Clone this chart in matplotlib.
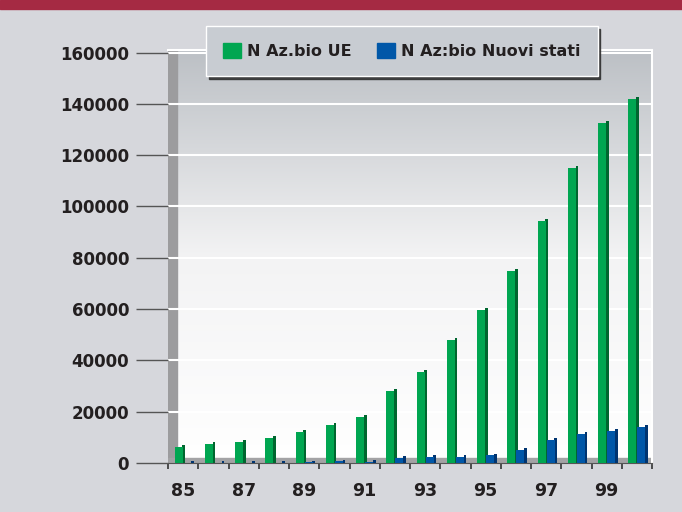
import numpy as np
import matplotlib
matplotlib.use('Agg')
import matplotlib.pyplot as plt
from matplotlib.patches import Rectangle, Patch
from matplotlib.colors import LinearSegmentedColormap

# ---------- dati ----------
anni = ['85', '86', '87', '88', '89', '90', '91', '92',
        '93', '94', '95', '96', '97', '98', '99', '00']
az_ue = [6200, 7300, 8200, 9700, 12000, 14800, 18000, 28000,
         35500, 48000, 59700, 75000, 94400, 115000, 132700, 142000]
az_nuovi = [100, 100, 100, 100, 200, 600, 300, 2000,
            2300, 2300, 3000, 5000, 9000, 11300, 12500, 14000]
etichette_x = ['85', '87', '89', '91', '93', '95', '97', '99']
serie = ['N Az.bio UE', 'N Az:bio Nuovi stati']

VERDE, VERDE_SCURO = '#00a651', '#00662f'
BLU, BLU_SCURO = '#0057a8', '#003470'
SFONDO = '#d6d7dc'
TESTO = '#231f20'

plt.rcParams['font.family'] = 'DejaVu Sans'
fig = plt.figure(figsize=(6.82, 5.12), dpi=100, facecolor=SFONDO)
fig.patches.append(Rectangle((0, 1 - 9 / 512), 1, 9 / 512, transform=fig.transFigure,
                             color='#a52a43', zorder=0))

ax = fig.add_axes([168 / 682, 49 / 512, (652 - 168) / 682, (463 - 50) / 512])
ymax = 161000
x = np.arange(len(anni))

# sfondo sfumato
cmap = LinearSegmentedColormap.from_list('sf', ['#ffffff', '#f3f3f4', '#bcc0c5'])
grad = np.linspace(0, 1, 256).reshape(-1, 1)
ax.imshow(grad, extent=[-0.5, len(anni) - 0.5, 0, ymax], origin='lower',
          aspect='auto', cmap=cmap, zorder=0)

# parete sinistra e pavimento (effetto 3D)
ax.axvspan(-0.5, -0.2, color='#9c9c9e', zorder=1)
ax.axhspan(0, 1900, color='#a3a3a5', zorder=1)
for v in range(20000, 160001, 20000):
    ax.axhline(v, color='white', lw=1.5, zorder=1)

w = 0.27
lato = 0.09
gx = x - 0.15
bx = x + 0.15
ax.bar(gx + w / 2 + lato / 2 - 0.01, np.array(az_ue) + 700, width=lato,
       color=VERDE_SCURO, zorder=2)
ax.bar(gx, az_ue, width=w, color=VERDE, zorder=3)
ax.bar(bx + w / 2 + lato / 2 - 0.01, np.array(az_nuovi) + 700, width=lato,
       color=BLU_SCURO, zorder=4)
ax.bar(bx, az_nuovi, width=w, color=BLU, zorder=5)

ax.set_xlim(-0.5, len(anni) - 0.5)
ax.set_ylim(0, ymax)
ax.set_yticks(range(0, 160001, 20000))
ax.set_yticklabels([str(v) for v in range(0, 160001, 20000)],
                   fontweight='bold', fontsize=12, color=TESTO)
ax.tick_params(axis='y', length=23, width=1, color='#555555', pad=5)

ax.set_xticks(x[::2])
ax.set_xticklabels(etichette_x, fontweight='bold', fontsize=12.5, color=TESTO)
ax.set_xticks(np.arange(-0.5, len(anni), 1), minor=True)
ax.tick_params(axis='x', which='major', length=0, pad=14)
ax.tick_params(axis='x', which='minor', length=4, width=1.2, color='#333333')

ax.spines['left'].set_visible(False)
ax.spines['bottom'].set_color('#555555')
for s in ['top', 'right']:
    ax.spines[s].set_color('white')
    ax.spines[s].set_linewidth(1.5)

handles = [Patch(color=VERDE, label=serie[0]), Patch(color=BLU, label=serie[1])]
leg = fig.legend(handles=handles, loc='center', bbox_to_anchor=(402 / 682, 1 - 51 / 512),
                 ncol=2, frameon=True, fancybox=False, shadow={'color': '#333333', 'alpha': 0.9},
                 facecolor='#c8ccd2', edgecolor='white', framealpha=1,
                 handlelength=1.1, handleheight=1.1, handletextpad=0.4, columnspacing=1.6,
                 borderpad=1.05, prop={'weight': 'bold', 'size': 11.5})
for t in leg.get_texts():
    t.set_color(TESTO)

fig.savefig('out.png', dpi=100, facecolor=SFONDO)
